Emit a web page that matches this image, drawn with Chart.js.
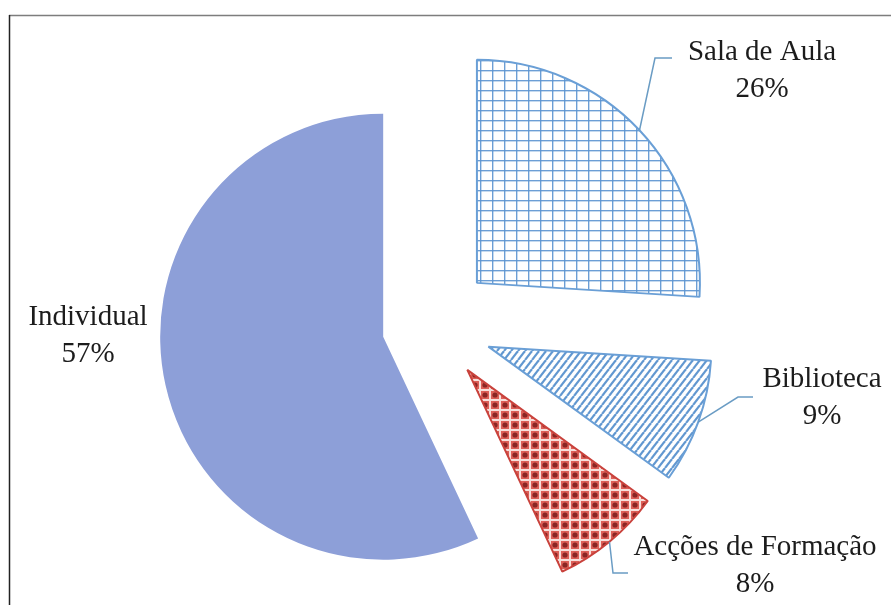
<!DOCTYPE html>
<html>
<head>
<meta charset="utf-8">
<script src="https://cdn.jsdelivr.net/npm/chart.js@4/dist/chart.umd.min.js"></script>
<style>
  html, body { margin: 0; padding: 0; background: #fff; }
  canvas { display: block; }
</style>
</head>
<body>
<canvas id="chart" width="891" height="605"></canvas>
<script>
// Where the study time is spent
const categories = ['Sala de Aula', 'Biblioteca', 'Acções de Formação', 'Individual'];
const shares = [26, 9, 8, 57];

// Layout of the exploded pie
const RADIUS = 223;
const explode = [63, 61, 57, 49];            // how far each slice is pulled out, px
const labelSpots = [                          // first-line baseline of each label
  { x: 762, y: 60 }, { x: 822, y: 387 }, { x: 755, y: 555 }, { x: 88, y: 325 }
];
const leaderBends = [
  [[655, 58], [672, 58]],
  [[738, 397], [753, 397]],
  [[613, 573], [628, 573]],
  null
];

// Fill patterns
function tile(w, h, paint) {
  const c = document.createElement('canvas');
  c.width = w; c.height = h;
  const g = c.getContext('2d');
  paint(g, w, h);
  return g.createPattern(c, 'repeat');
}
const gridFill = tile(12, 10, (g, w, h) => {
  g.fillStyle = '#ffffff'; g.fillRect(0, 0, w, h);
  g.fillStyle = 'rgba(92,148,208,0.9)';
  g.fillRect(0, 0, 1, h); g.fillRect(0, 0, w, 1);
  g.fillStyle = 'rgba(92,148,208,0.35)';
  g.fillRect(1, 0, 1, h); g.fillRect(0, 1, w, 1);
});
const stripeFill = tile(7, 9, (g, w, h) => {
  g.fillStyle = '#ffffff'; g.fillRect(0, 0, w, h);
  g.strokeStyle = 'rgba(88,145,205,0.95)'; g.lineWidth = 2.2;
  for (const dx of [-w, 0, w]) {
    g.beginPath(); g.moveTo(dx, h); g.lineTo(dx + w, 0); g.stroke();
  }
});
const dotFill = tile(10, 10, (g, w, h) => {
  g.fillStyle = '#f7dfdb'; g.fillRect(0, 0, w, h);
  g.fillStyle = '#dd5f57'; g.fillRect(1, 1, 8, 8);
  g.fillStyle = '#8a2624';
  g.beginPath(); g.arc(5, 5, 2.6, 0, Math.PI * 2); g.fill();
});

const fills = [gridFill, stripeFill, dotFill, '#8d9fd8'];
const edges = ['#6a9fd6', '#6a9fd6', '#c9423c', '#8d9fd8'];
const edgeWidths = [2, 2, 2, 0];

// Pull each slice out along its middle angle by moving the arc's centre
const explodeSlices = {
  id: 'explodeSlices',
  afterDatasetsUpdate(chart) {
    chart.getDatasetMeta(0).data.forEach((arc, i) => {
      const mid = (arc.startAngle + arc.endAngle) / 2;
      arc.x += Math.cos(mid) * explode[i];
      arc.y += Math.sin(mid) * explode[i];
    });
  }
};

// Thin frame on the left and top
const frame = {
  id: 'frame',
  beforeDraw(chart) {
    const ctx = chart.ctx;
    ctx.save();
    ctx.lineWidth = 1.5;
    ctx.strokeStyle = '#7d7d7d';
    ctx.beginPath(); ctx.moveTo(9, 15.5); ctx.lineTo(891, 15.5); ctx.stroke();
    ctx.strokeStyle = '#222';
    ctx.beginPath(); ctx.moveTo(9.5, 15); ctx.lineTo(9.5, 605); ctx.stroke();
    ctx.restore();
  }
};

// Category name and percentage beside each slice, with leader lines
const sliceLabels = {
  id: 'sliceLabels',
  afterDatasetsDraw(chart) {
    const ctx = chart.ctx;
    const meta = chart.getDatasetMeta(0);
    const total = shares.reduce((a, b) => a + b, 0);
    ctx.save();
    ctx.strokeStyle = '#6a9cc4';
    ctx.lineWidth = 1.5;
    meta.data.forEach((arc, i) => {
      const bends = leaderBends[i];
      if (!bends) return;
      const mid = (arc.startAngle + arc.endAngle) / 2;
      ctx.beginPath();
      ctx.moveTo(arc.x + Math.cos(mid) * RADIUS, arc.y + Math.sin(mid) * RADIUS);
      bends.forEach(p => ctx.lineTo(p[0], p[1]));
      ctx.stroke();
    });
    ctx.font = '29px "Liberation Serif", "Times New Roman", serif';
    ctx.textAlign = 'center';
    ctx.textBaseline = 'alphabetic';
    ctx.fillStyle = '#1c1c1c';
    categories.forEach((name, i) => {
      const s = labelSpots[i];
      const pct = Math.round(shares[i] / total * 100) + '%';
      ctx.fillText(name, s.x, s.y);
      ctx.fillText(pct, s.x, s.y + 37);
    });
    ctx.restore();
  }
};

new Chart(document.getElementById('chart'), {
  type: 'pie',
  data: {
    labels: categories,
    datasets: [{
      data: shares,
      backgroundColor: fills,
      borderColor: edges,
      borderWidth: edgeWidths
    }]
  },
  options: {
    responsive: false,
    animation: false,
    events: [],
    radius: RADIUS,
    rotation: 0,
    layout: { padding: { left: 0, right: 29, top: 47, bottom: 0 } },
    plugins: {
      legend: { display: false },
      tooltip: { enabled: false }
    }
  },
  plugins: [frame, explodeSlices, sliceLabels]
});
</script>
</body>
</html>
